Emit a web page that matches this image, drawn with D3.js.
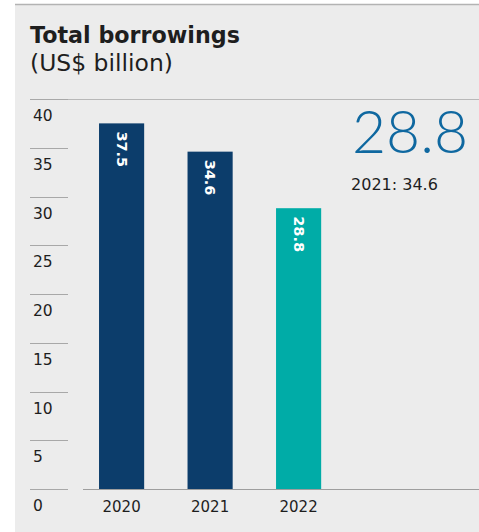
<!DOCTYPE html>
<html>
<head>
<meta charset="utf-8">
<script src="https://cdn.jsdelivr.net/npm/d3@7"></script>
<style>
  html, body { margin: 0; padding: 0; background: #ffffff; }
  svg { display: block; }
  text { font-family: "DejaVu Sans", "Noto Sans", sans-serif; fill: #1e1e1e; }
</style>
</head>
<body>
<svg id="chart" width="479" height="532"></svg>
<script>
// Total borrowings, US$ billion
const years = ["2020", "2021", "2022"];
const borrowings = [37.5, 34.6, 28.8];
const barColors = ["#0c3d6b", "#0c3d6b", "#00aca7"];
const yTicks = [0, 5, 10, 15, 20, 25, 30, 35, 40];
const title = "Total borrowings";
const subtitle = "(US$ billion)";
const headline = "28.8";
const comparison = "2021: 34.6";

const W = 479, H = 532;
const svg = d3.select("#chart");

// Panel background and top rule
svg.append("rect").attr("x", 15).attr("y", 4).attr("width", W - 15).attr("height", H - 4)
  .attr("fill", "#ececec");
svg.append("line").attr("x1", 15).attr("x2", W).attr("y1", 4.5).attr("y2", 4.5)
  .attr("stroke", "#b3b3b3").attr("stroke-width", 1.5);

// Fit a text element's font size to a given width
function fitWidth(sel, target) {
  const node = sel.node();
  const fs = parseFloat(sel.attr("font-size"));
  const w = node.getComputedTextLength();
  sel.attr("font-size", (fs * target / w).toFixed(2));
}

const t = svg.append("text").attr("x", 30).attr("y", 43)
  .attr("font-size", 21).attr("font-weight", 700).attr("fill", "#111").text(title);
fitWidth(t, 210);
const st = svg.append("text").attr("x", 30).attr("y", 71)
  .attr("font-size", 20).attr("font-weight", 400).attr("fill", "#1e1e1e").text(subtitle);
fitWidth(st, 143);

// Scales
const y = d3.scaleLinear().domain([0, 40]).range([489, 99]);
const x = d3.scaleBand().domain(years).range([76.9, 343.3])
  .paddingInner(0.49).paddingOuter(0.25);

// Y ticks: short rules with the label below each
const tick = svg.append("g").selectAll("g").data(yTicks).join("g")
  .attr("transform", d => `translate(0,${Math.round(y(d)) + 0.5})`);
tick.append("line").attr("x1", 30).attr("x2", 68)
  .attr("stroke", "#a8a8a8").attr("stroke-width", 1);
tick.append("text").attr("x", 33).attr("y", 21)
  .attr("font-size", 15.5).text(d => d);

// Top value rule extends across the panel
svg.append("line").attr("x1", 68).attr("x2", W)
  .attr("y1", Math.round(y(40)) + 0.5).attr("y2", Math.round(y(40)) + 0.5)
  .attr("stroke", "#b8b8b8").attr("stroke-width", 1);

// Bars
svg.append("g").selectAll("rect").data(borrowings).join("rect")
  .attr("x", (d, i) => x(years[i]))
  .attr("y", d => y(d))
  .attr("width", x.bandwidth())
  .attr("height", d => y(0) - y(d))
  .attr("fill", (d, i) => barColors[i]);

// Value labels inside bars, rotated
svg.append("g").selectAll("text").data(borrowings).join("text")
  .attr("transform", (d, i) =>
    `translate(${x(years[i]) + x.bandwidth() / 2},${y(d) + 8}) rotate(90)`)
  .attr("dominant-baseline", "central")
  .attr("font-size", 14.5).attr("font-weight", 700)
  .style("fill", "#ffffff")
  .text(d => d.toFixed(1));

// Baseline axis
svg.append("line").attr("x1", 83).attr("x2", W)
  .attr("y1", Math.round(y(0)) + 0.5).attr("y2", Math.round(y(0)) + 0.5)
  .attr("stroke", "#9e9e9e").attr("stroke-width", 1.2);

// Category labels
svg.append("g").selectAll("text").data(years).join("text")
  .attr("x", d => x(d) + x.bandwidth() / 2)
  .attr("y", 512).attr("text-anchor", "middle")
  .attr("font-size", 15).text(d => d);

// Headline figure
const hl = svg.append("text").attr("x", 468).attr("y", 153).attr("text-anchor", "end")
  .attr("font-size", 57).attr("font-weight", 300)
  .style("font-family", "Lato, 'Open Sans', sans-serif")
  .style("fill", "#0f68a0").text(headline);
fitWidth(hl, 116);
const cmp = svg.append("text").attr("x", 351).attr("y", 190)
  .attr("font-size", 14).text(comparison);
fitWidth(cmp, 87);
</script>
</body>
</html>
